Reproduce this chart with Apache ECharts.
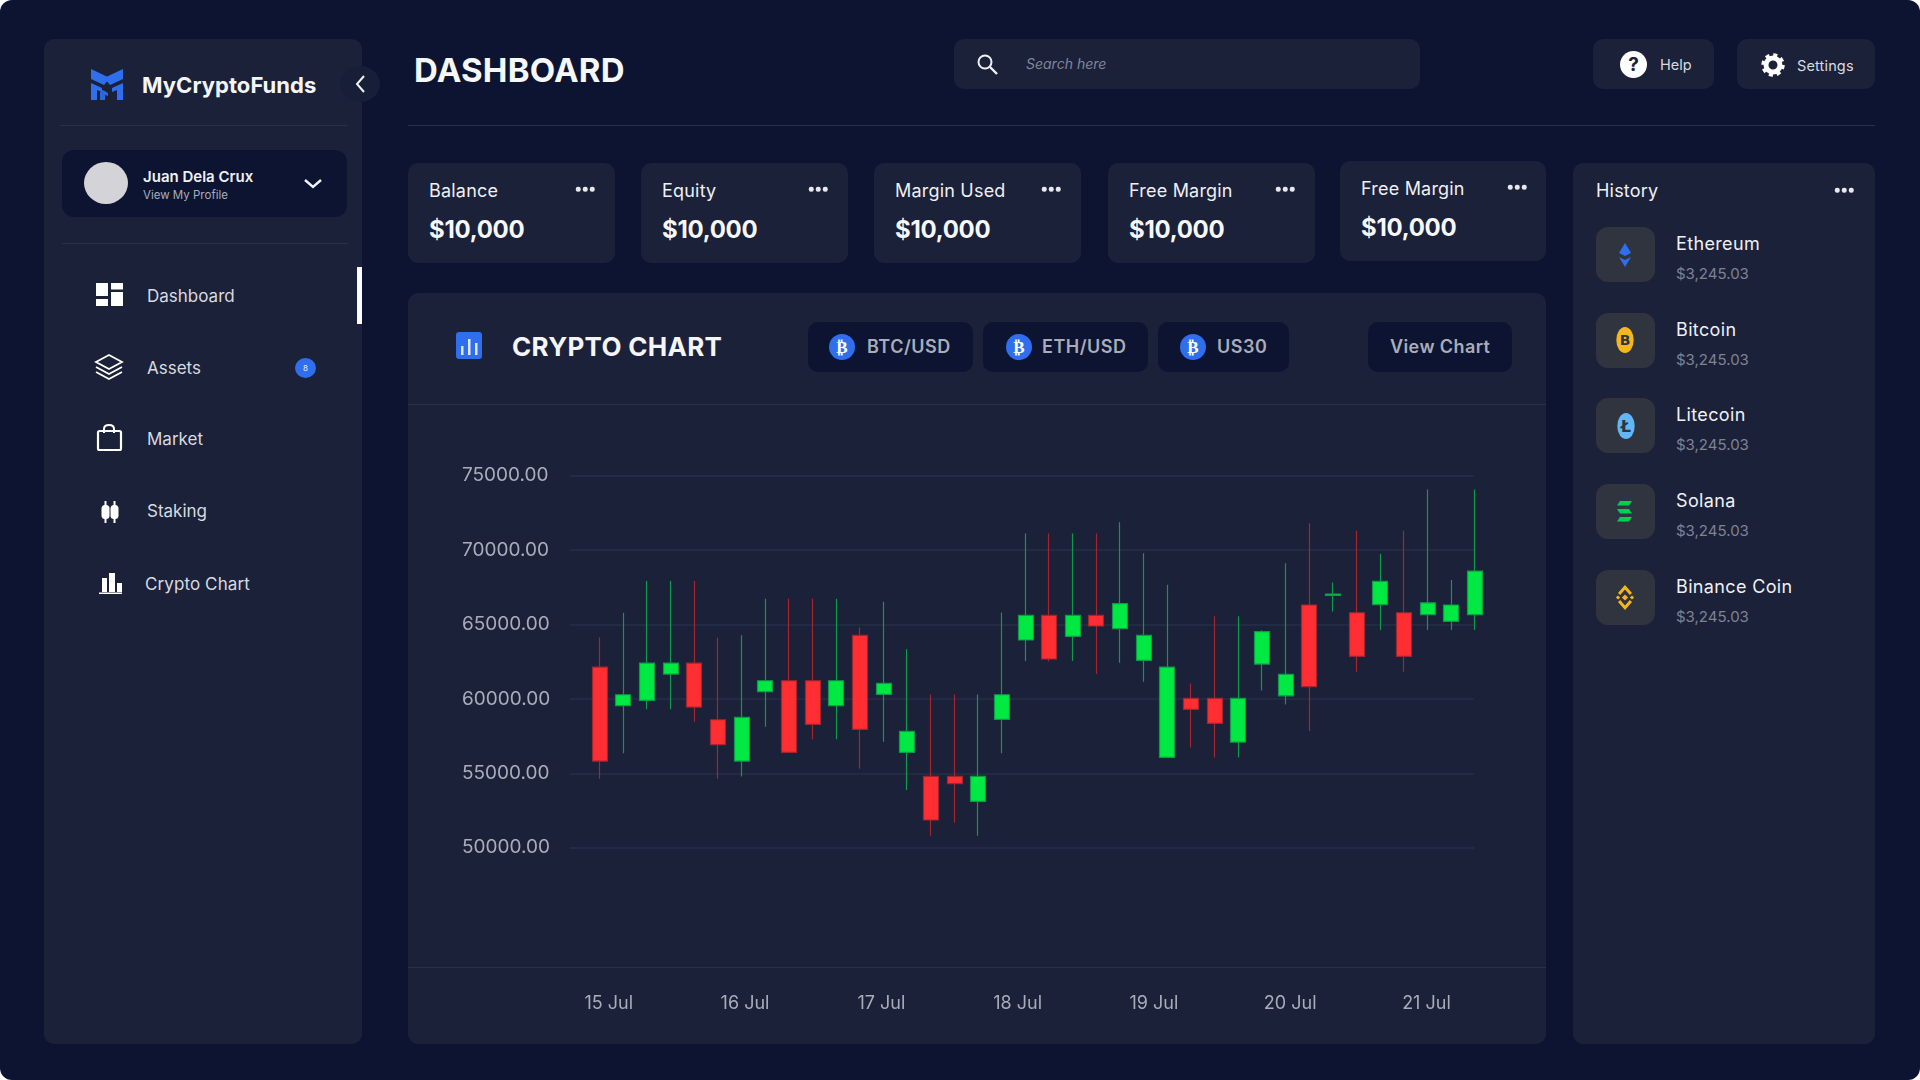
<!DOCTYPE html>
<html><head><meta charset="utf-8">
<script src="https://cdn.jsdelivr.net/npm/echarts@6/dist/echarts.min.js"></script>
<style>
html,body{margin:0;padding:0;width:1920px;height:1080px;overflow:hidden;background:#fff;font-family:Inter,"Noto Sans",sans-serif}
#stage{position:absolute;left:0;top:0;width:1920px;height:1080px;background:#0c1431;border-radius:12px;overflow:hidden}
.p{position:absolute;background:#1b2138;border-radius:10px}
.d{position:absolute;background:#2a3048;height:1px}
.t{position:absolute;white-space:nowrap;line-height:1;transform:translateY(-50%)}
.dots{position:absolute;transform:translate(-50%,-50%);display:flex;gap:2.5px}
.dots i{width:4.5px;height:4.5px;border-radius:50%;background:#e8e9ee;display:block}
svg{position:absolute;overflow:visible}
#chart{position:absolute;left:0;top:0;width:1920px;height:1080px}
.b{position:absolute;background:#0c1431;border-radius:10px}
.coin{position:absolute;width:26px;height:26px;border-radius:50%;background:#2f6fed;color:#fff;font:700 17px "DejaVu Sans";text-align:center;line-height:26px;transform:translate(-50%,-50%)}
</style></head><body>
<div id="stage">
 <!-- sidebar -->
 <div class="p" style="left:44px;top:39px;width:318px;height:1005px"></div>
 <div style="position:absolute;left:340px;top:66px;width:40px;height:36px;border-radius:50%;background:#171e37"></div>
 <svg style="left:0;top:0" width="1" height="1"><path d="M364 76l-7 8 7 8" fill="none" stroke="#f2f3f6" stroke-width="2"/></svg>
 <svg style="left:0;top:0" width="1" height="1"><g fill="#2f6fed"><path d="M91 69l19 9-6 7-13-6z"/><path d="M123 69v10l-13 6 -6-7z"/><path d="M91 83l11 5v4l-5-2v10h-6z"/><path d="M123 83v17h-6V90l-5 2v-4z"/><path d="M103 90l5 3v3l-3-1v5h-5V92z" opacity=".9"/></g></svg>
 <div class="t" style="left:142px;top:84.500px;font-size:22px;font-weight:700;color:#f4f5f8;letter-spacing:.05px">MyCryptoFunds</div>
 <div class="d" style="left:60px;top:125px;width:287px"></div>
 <div class="b" style="left:62px;top:150px;width:285px;height:67px;border-radius:12px"></div>
 <div style="position:absolute;left:84px;top:162px;width:44px;height:42px;border-radius:50%;background:#d4d4d8"></div>
 <div class="t" style="left:143px;top:176px;font-size:15px;font-weight:600;color:#eef0f4">Juan Dela Crux</div>
 <div class="t" style="left:143px;top:196px;font-size:11.5px;color:#a9adb9">View My Profile</div>
 <svg style="left:0;top:0" width="1" height="1"><path d="M305 180l8 7 8-7" fill="none" stroke="#f2f3f6" stroke-width="2.4"/></svg>
 <div class="d" style="left:62px;top:243px;width:286px"></div>
 <div style="position:absolute;left:357px;top:267px;width:5px;height:57px;background:#fff"></div>

 <svg style="left:0;top:0" width="1" height="1"><g fill="#fff">
  <rect x="96" y="283" width="12" height="13"/><rect x="111" y="283" width="12" height="6.5"/><rect x="96" y="299" width="12" height="7"/><rect x="111" y="292" width="12" height="14"/></g>
  <g fill="none" stroke="#fff" stroke-width="1.8"><path d="M109 355l13 7-13 7-13-7z"/><path d="M96 367l13 7 13-7"/><path d="M96 372l13 7 13-7"/>
  <rect x="98" y="431" width="23" height="19" rx="1.5" stroke-width="2.2"/><path d="M104 433v-4q0-4 5-4t5 4v4" stroke-width="2"/></g>
  <g fill="#fff"><rect x="104.500" y="501" width="2" height="22"/><rect x="113.500" y="501" width="2" height="22"/><rect x="101.500" y="505" width="8" height="14" rx="3.500"/><rect x="110.500" y="505" width="8" height="14" rx="3.500"/>
  <rect x="102" y="578" width="5" height="14"/><rect x="109" y="573" width="6" height="19"/><rect x="117" y="583" width="5" height="9"/><rect x="99" y="592.500" width="23" height="1.500"/></g></svg>
 <div class="t" style="left:147px;top:295.500px;font-size:17px;color:#d8dae0">Dashboard</div>
 <div class="t" style="left:147px;top:367.500px;font-size:17px;color:#d8dae0">Assets</div>
 <div class="t" style="left:147px;top:439px;font-size:17px;color:#d8dae0">Market</div>
 <div class="t" style="left:147px;top:511px;font-size:17px;color:#d8dae0">Staking</div>
 <div class="t" style="left:145px;top:584px;font-size:17px;color:#d8dae0;letter-spacing:.1px">Crypto Chart</div>
 <div style="position:absolute;left:295px;top:358px;width:21px;height:20px;border-radius:50%;background:#2f6fed;color:#e8ecff;font-size:8px;line-height:20px;text-align:center">8</div>

 <!-- header -->
 <div class="t" style="left:414px;top:70px;font-size:33px;font-weight:700;color:#f6f7f9;letter-spacing:.2px">DASHBOARD</div>
 <div class="p" style="left:954px;top:39px;width:466px;height:50px"></div>
 <svg style="left:0;top:0" width="1" height="1"><circle cx="985" cy="62" r="6.500" fill="none" stroke="#f0f1f5" stroke-width="2"/><path d="M990 67l7 7" stroke="#f0f1f5" stroke-width="2.400"/></svg>
 <div class="t" style="left:1026px;top:64px;font-size:14px;font-style:italic;color:#80859a">Search here</div>
 <div class="p" style="left:1593px;top:39px;width:121px;height:50px"></div>
 <div style="position:absolute;left:1620px;top:51px;width:27px;height:27px;border-radius:50%;background:#fff;color:#1b2138;font-weight:700;font-size:19px;line-height:27px;text-align:center">?</div>
 <div class="t" style="left:1660px;top:65px;font-size:14.500px;color:#d8dae0">Help</div>
 <div class="p" style="left:1737px;top:39px;width:138px;height:50px"></div>
 <svg style="left:0;top:0" width="1" height="1"><circle cx="1773" cy="65" r="7" fill="none" stroke="#fff" stroke-width="5"/><circle cx="1773" cy="65" r="10" fill="none" stroke="#fff" stroke-width="3.500" stroke-dasharray="4 3.850"/></svg>
 <div class="t" style="left:1797px;top:66px;font-size:14.500px;color:#d8dae0;letter-spacing:.15px">Settings</div>
 <div class="d" style="left:408px;top:125px;width:1467px"></div>

 <!-- cards -->
 <div id="cards"></div>

 <!-- chart panel -->
 <div class="p" style="left:408px;top:293px;width:1138px;height:751px"></div>
 <div class="d" style="left:408px;top:404px;width:1138px"></div>
 <div class="d" style="left:408px;top:967px;width:1138px"></div>
 <svg style="left:0;top:0" width="1" height="1"><rect x="456" y="332" width="26" height="27" rx="3" fill="#2f6fed"/><g fill="#dfe8ff"><rect x="461" y="346" width="2.500" height="9"/><rect x="468" y="339" width="2.500" height="16"/><rect x="475" y="343" width="2.500" height="12"/></g></svg>
 <div class="t" style="left:512px;top:347px;font-size:26px;font-weight:700;color:#f4f5f8;letter-spacing:.3px">CRYPTO CHART</div>
 <div class="b" style="left:808px;top:322px;width:165px;height:50px"></div>
 <div class="b" style="left:983px;top:322px;width:165px;height:50px"></div>
 <div class="b" style="left:1158px;top:322px;width:131px;height:50px"></div>
 <div class="b" style="left:1368px;top:322px;width:144px;height:50px"></div>
 <div class="coin" style="left:842px;top:347px">₿</div>
 <div class="coin" style="left:1019px;top:347px">₿</div>
 <div class="coin" style="left:1193px;top:347px">₿</div>
 <div class="t" style="left:867px;top:347px;font-size:18px;font-weight:600;color:#a9adb9;letter-spacing:.5px">BTC/USD</div>
 <div class="t" style="left:1042px;top:347px;font-size:18px;font-weight:600;color:#a9adb9;letter-spacing:.5px">ETH/USD</div>
 <div class="t" style="left:1217px;top:347px;font-size:18px;font-weight:600;color:#a9adb9;letter-spacing:.5px">US30</div>
 <div class="t" style="left:1390px;top:347px;font-size:18px;font-weight:600;color:#a9adb9;letter-spacing:.4px">View Chart</div>

 <!-- history -->
 <div class="p" style="left:1573px;top:163px;width:302px;height:881px"></div>
 <div class="t" style="left:1596px;top:191px;font-size:18px;color:#eef0f4;letter-spacing:.2px">History</div>
 <div class="dots" style="left:1844px;top:190px"><i></i><i></i><i></i></div>
 <div id="hist"></div>
 <svg style="left:0;top:0" width="1" height="1">
  <g fill="#2f6fed"><path d="M1625 243l6 10-6 3-6-3z"/><path d="M1619 257l6 3 6-3-6 10z"/></g>
  <ellipse cx="1625" cy="340" rx="8.700" ry="13" fill="#f4b81e"/>
  <ellipse cx="1626" cy="426" rx="8.700" ry="13" fill="#62b6f5"/>
  <g fill="#00d04a"><path d="M1620 501h12l-3 4.500h-12z"/><path d="M1617 509h12l3 4.500h-12z"/><path d="M1620 517h12l-3 4.500h-12z"/></g>
  <g fill="#f4b81e"><path d="M1625 585l7 8-2.200 2-4.800-5.500-4.800 5.500-2.200-2z"/><path d="M1625 610l7-8-2.200-2-4.800 5.500-4.800-5.500-2.200 2z"/><rect x="1622.800" y="595.300" width="4.400" height="4.400" transform="rotate(45 1625 597.500)"/><rect x="1616.500" y="596" width="3" height="3" transform="rotate(45 1618 597.500)"/><rect x="1630.500" y="596" width="3" height="3" transform="rotate(45 1632 597.500)"/></g>
 </svg>
 <div class="t" style="left:1625px;top:340px;transform:translate(-50%,-50%);font:700 14px 'DejaVu Sans';color:#30343f">B</div>
 <div class="t" style="left:1626px;top:426px;transform:translate(-50%,-50%);font:700 16px 'DejaVu Sans';color:#30343f">Ł</div>

 <div id="chart"></div>
</div>
<script>
// Candles: [open, close, low, high]; close above open is green, below is red
var candles = [
 [62140,55820,54640,64130],[59540,60280,56340,65790],[59900,62410,59300,67920],[61670,62410,59300,67920],
 [62410,59450,58470,67920],[58600,56920,54640,64110],[55820,58760,54790,64270],[60480,61220,58130,66730],
 [61220,56410,56410,66730],[61220,58290,57280,66730],[59540,61220,57280,66730],[64270,57950,55310,64810],
 [60300,61040,57120,66530],[56410,57820,53880,63330],[54790,51860,50810,60300],[54790,54300,51680,60300],
 [53110,54790,50810,60300],[58620,60280,56340,65810],[63960,65610,62540,71120],[65610,62680,62520,71120],
 [64200,65610,62540,71120],[65610,64900,61670,71120],[64720,66400,62430,71880],[62590,64270,61160,69780],
 [56070,62140,56070,67670],[60040,59300,56740,61040],[60040,58360,56070,65550],[57100,60040,56070,65550],
 [62340,64520,60570,64610],[60210,61650,59630,69110],[66310,60820,57840,71800],[66960,67050,65880,67830],
 [65790,62860,61830,71300],[66330,67900,64630,69760],[65790,62860,61830,71320],[65660,66460,64630,74080],
 [65210,66310,64630,67990],[65660,68590,64630,74080]
];
var candleNames = candles.map(function(_,i){return String(i+1);});
var dayLabels = ['15 Jul','16 Jul','17 Jul','18 Jul','19 Jul','20 Jul','21 Jul'];
var yMin = 50000, yMax = 75000, yStep = 5000;
var cardTitles = ['Balance','Equity','Margin Used','Free Margin','Free Margin'];
var cardValues = ['$10,000','$10,000','$10,000','$10,000','$10,000'];
var historyNames = ['Ethereum','Bitcoin','Litecoin','Solana','Binance Coin'];
var historyValues = ['$3,245.03','$3,245.03','$3,245.03','$3,245.03','$3,245.03'];

var cardGeom=[[408,163,207,100],[641,163,207,100],[874,163,207,100],[1108,163,207,100],[1340,161,206,100]];
var h='';
cardTitles.forEach(function(t,i){var g=cardGeom[i];
 h+='<div class="p" style="left:'+g[0]+'px;top:'+g[1]+'px;width:'+g[2]+'px;height:'+g[3]+'px"></div>'+
 '<div class="t" style="left:'+(g[0]+21)+'px;top:'+(g[1]+28)+'px;font-size:18px;color:#eef0f4;letter-spacing:.2px">'+t+'</div>'+
 '<div class="t" style="left:'+(g[0]+21)+'px;top:'+(g[1]+67)+'px;font-size:24px;font-weight:700;color:#f6f7f9;letter-spacing:-.3px">'+cardValues[i]+'</div>'+
 '<div class="dots" style="left:'+(g[0]+177)+'px;top:'+(g[1]+26)+'px"><i></i><i></i><i></i></div>';});
document.getElementById('cards').innerHTML=h;
h='';
historyNames.forEach(function(n,i){var y=[227,313,398,484,570][i];
 h+='<div style="position:absolute;left:1596px;top:'+y+'px;width:59px;height:55px;border-radius:12px;background:#30343f"></div>'+
 '<div class="t" style="left:1676px;top:'+(y+17)+'px;font-size:18px;color:#eef0f4;letter-spacing:.35px">'+n+'</div>'+
 '<div class="t" style="left:1676px;top:'+(y+45.5)+'px;font-size:15px;color:#7e8394">'+historyValues[i]+'</div>';});
document.getElementById('hist').innerHTML=h;

var gridTop=475.7, gridH=372;
var chart=echarts.init(document.getElementById('chart'),null,{renderer:'canvas'});
chart.setOption({
 animation:false,
 backgroundColor:'transparent',
 grid:[
  {left:570,width:904,top:gridTop,height:gridH},
  {left:587.9,width:898.9,top:gridTop,height:gridH},
  {left:540.6,width:954,top:900,height:67}
 ],
 xAxis:[
  {type:'category',gridIndex:0,data:candleNames,show:false},
  {type:'category',gridIndex:1,data:candleNames,show:false},
  {type:'category',gridIndex:2,data:dayLabels,axisLine:{show:false},axisTick:{show:false},
   axisLabel:{color:'#a9adb9',fontFamily:'Inter',fontSize:18,margin:28}}
 ],
 yAxis:[
  {type:'value',gridIndex:0,min:yMin,max:yMax,interval:yStep,axisLine:{show:false},axisTick:{show:false},
   splitLine:{lineStyle:{color:'#243048',width:1.5}},
   axisLabel:{color:'#a9adb9',fontFamily:'Inter',fontSize:19,align:'left',margin:108,padding:[6,0,0,0],
    formatter:function(v){return v.toFixed(2);}}},
  {type:'value',gridIndex:1,min:yMin,max:yMax,show:false},
  {type:'value',gridIndex:2,show:false}
 ],
 series:[{
  type:'candlestick',xAxisIndex:1,yAxisIndex:1,data:candles,barWidth:15.5,clip:false,
  itemStyle:{color:'#00e842',color0:'#fe2e32',borderColor:'#0f9a4a',borderColor0:'#a3262f',borderWidth:1.2}
 }]
});
</script>
</body></html>
